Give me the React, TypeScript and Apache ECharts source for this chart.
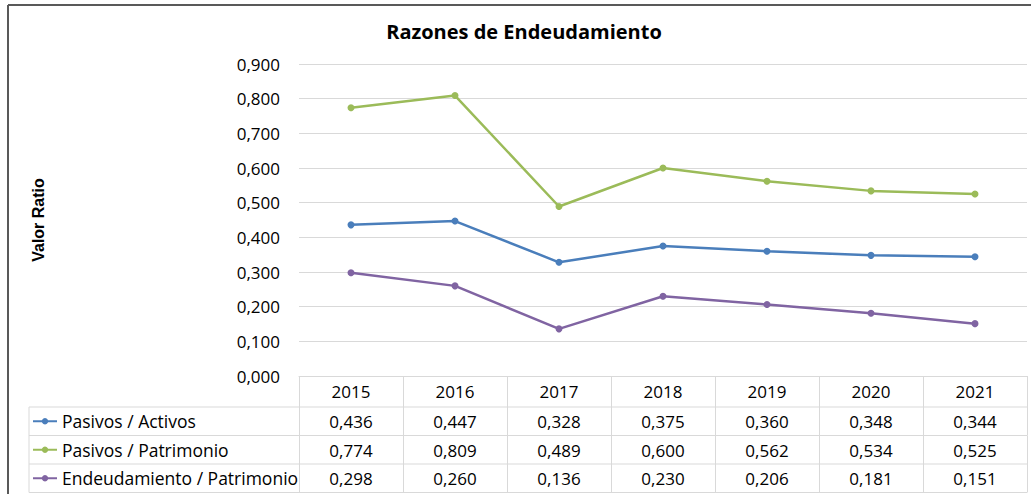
import React, { useEffect, useRef } from "react";
import * as echarts from "echarts";

const years = ["2015", "2016", "2017", "2018", "2019", "2020", "2021"];
const pasivosActivos = [0.436, 0.447, 0.328, 0.375, 0.36, 0.348, 0.344];
const pasivosPatrimonio = [0.774, 0.809, 0.489, 0.6, 0.562, 0.534, 0.525];
const endeudamientoPatrimonio = [0.298, 0.26, 0.136, 0.23, 0.206, 0.181, 0.151];
const seriesNames = ["Pasivos / Activos", "Pasivos / Patrimonio", "Endeudamiento / Patrimonio"];
const seriesColors = ["#4A7EBB", "#9BBB59", "#8064A2"];
const seriesValues = [pasivosActivos, pasivosPatrimonio, endeudamientoPatrimonio];

const fmt = (v: number) => v.toFixed(3).replace(".", ",");

const FONT = "'Open Sans', sans-serif";
const GRID_LEFT = 299;
const GRID_RIGHT_X = 1027;
const GRID_TOP = 64;
const GRID_BOTTOM_Y = 376;
const HEADER_H = 31;
const ROW_H = 28.5;
const BORDER = "#d9d9d9";

export default function App() {
  const ref = useRef<HTMLDivElement>(null);
  useEffect(() => {
    if (!ref.current) return;
    const chart = echarts.init(ref.current, undefined, { renderer: "svg" });
    const W = 1031;
    const H = 494;

    const xAxes: any[] = [
      {
        type: "category",
        gridIndex: 0,
        position: "bottom",
        data: years,
        boundaryGap: true,
        axisLine: { show: true, lineStyle: { color: BORDER, width: 1 } },
        axisTick: { show: true, interval: 0, length: HEADER_H, lineStyle: { color: BORDER } },
        axisLabel: { interval: 0, fontFamily: FONT, fontSize: 17, color: "#000", margin: 7 },
        splitLine: { show: false },
      },
    ];
    seriesValues.forEach((vals, i) => {
      xAxes.push({
        type: "category",
        gridIndex: 0,
        position: "bottom",
        offset: HEADER_H + ROW_H * i,
        data: vals.map(fmt),
        boundaryGap: true,
        axisLine: { show: false },
        axisTick: { show: true, interval: 0, length: ROW_H, lineStyle: { color: BORDER } },
        axisLabel: { interval: 0, fontFamily: FONT, fontSize: 17, color: "#000", margin: 6 },
        splitLine: { show: false },
      });
    });

    const rowLines: any[] = [];
    for (let i = 0; i <= 3; i++) {
      const y = GRID_BOTTOM_Y + HEADER_H + ROW_H * i;
      rowLines.push({
        type: "line",
        shape: { x1: 29, y1: y, x2: GRID_RIGHT_X, y2: y },
        style: { stroke: BORDER, lineWidth: 1 },
        silent: true,
      });
    }
    rowLines.push({
      type: "line",
      shape: { x1: 29, y1: GRID_BOTTOM_Y + HEADER_H, x2: 29, y2: GRID_BOTTOM_Y + HEADER_H + ROW_H * 3 },
      style: { stroke: BORDER, lineWidth: 1 },
      silent: true,
    });

    const legends = seriesNames.map((name, i) => ({
      orient: "horizontal",
      left: 32,
      top: GRID_BOTTOM_Y + HEADER_H + ROW_H * i + ROW_H / 2 - 10,
      padding: 0,
      itemWidth: 24,
      itemHeight: 8,
      itemGap: 0,
      data: [name],
      textStyle: { fontFamily: FONT, fontSize: 17.5, color: "#000", lineHeight: 20 },
      selectedMode: false,
    }));

    chart.setOption({
      animation: false,
      backgroundColor: "#ffffff",
      title: {
        text: "Razones de Endeudamiento",
        left: 524,
        textAlign: "center",
        top: 18,
        padding: 0,
        textStyle: { fontFamily: FONT, fontSize: 20, fontWeight: "bold", color: "#000", lineHeight: 26 },
      },
      legend: legends,
      grid: {
        left: GRID_LEFT,
        right: W - GRID_RIGHT_X,
        top: GRID_TOP,
        bottom: H - GRID_BOTTOM_Y,
        containLabel: false,
      },
      xAxis: xAxes,
      yAxis: {
        type: "value",
        min: 0,
        max: 0.9,
        interval: 0.1,
        name: "Valor Ratio",
        nameLocation: "middle",
        nameRotate: 90,
        nameGap: 253,
        nameTextStyle: { fontFamily: "'Liberation Sans', Arial, sans-serif", fontSize: 16, fontWeight: "bold", color: "#000" },
        axisLine: { show: false },
        axisTick: { show: false },
        axisLabel: { formatter: (v: number) => fmt(v), fontFamily: FONT, fontSize: 17, color: "#000", margin: 19 },
        splitLine: { show: true, lineStyle: { color: BORDER, width: 1 } },
      },
      series: seriesNames.map((name, i) => ({
        name,
        type: "line",
        xAxisIndex: 0,
        data: seriesValues[i],
        symbol: "circle",
        symbolSize: 7,
        lineStyle: { color: seriesColors[i], width: 2.5 },
        itemStyle: { color: seriesColors[i] },
        smooth: false,
      })),
      graphic: [
        {
          type: "line",
          shape: { x1: 8, y1: 5, x2: W, y2: 5 },
          style: { stroke: "#595959", lineWidth: 2 },
          silent: true,
        },
        {
          type: "line",
          shape: { x1: 8, y1: 5, x2: 8, y2: H },
          style: { stroke: "#595959", lineWidth: 2 },
          silent: true,
        },
        ...rowLines,
      ],
    });
    return () => chart.dispose();
  }, []);
  return (
    <div
      ref={ref}
      style={{ position: "absolute", left: 0, top: 0, width: 1031, height: 494 }}
    />
  );
}
